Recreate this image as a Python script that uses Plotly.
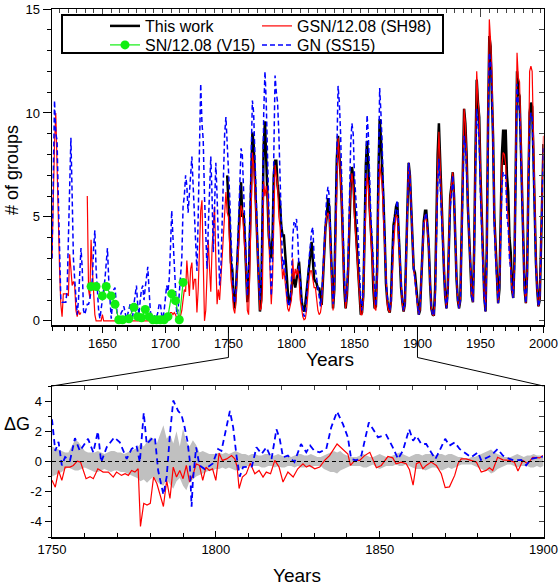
import plotly.graph_objects as go

# ---- top panel: number of sunspot groups, one value per year ----
gn_years = list(range(1610, 2001))
gn_ss15 = [
    3.0, 7.0, 10.6, 9.0, 8.7, 6.0, 2.5, 1.0, 0.9, 0.9,
    0.9, 0.9, 1.5, 4.0, 7.5, 8.8, 6.0, 3.0, 2.0, 1.0,
    0.3, 1.0, 2.0, 3.5, 2.5, 0.5, 0.3, 0.5, 0.8, 0.8,
    1.0, 1.5, 2.0, 3.5, 4.35, 2.5, 1.2, 0.5, 0.1, 0.5,
    1.0, 1.5, 2.0, 3.0, 3.5, 2.0, 0.8, 0.1, 0.8, 1.5,
    1.6, 0.6, 0.1, 0.1, 0.2, 0.4, 0.5, 0.7, 0.3, 0.1,
    0.3, 0.5, 0.8, 0.5, 0.2, 0.8, 1.3, 1.7, 0.8, 0.3,
    1.0, 1.5, 1.7, 1.0, 1.6, 2.2, 2.6, 1.5, 0.5, 0.1,
    0.1, 0.2, 0.3, 0.2, 0.4, 0.8, 0.85, 0.3, 0.1, 0.5,
    1.2, 1.7, 1.4, 2.0, 3.5, 5.3, 4.0, 2.5, 1.0, 0.3,
    0.5, 1.5, 2.0, 3.0, 5.5, 6.0, 7.0, 6.5, 5.2, 6.0,
    7.0, 7.9, 6.5, 5.0, 3.5, 2.4, 5.0, 9.0, 11.4, 9.5,
    8.7, 6.0, 4.0, 2.5, 4.5, 6.5, 7.9, 6.0, 3.3, 5.5,
    7.6, 6.0, 3.5, 1.7, 2.5, 5.0, 7.5, 9.0, 9.8, 8.4,
    7.7, 6.0, 4.0, 2.5, 1.2, 0.85, 1.5, 3.0, 4.5, 6.5,
    8.3, 8.0, 6.0, 4.5, 3.0, 1.2, 2.5, 5.0, 8.0, 10.6,
    10.0, 8.0, 6.0, 3.5, 2.0, 1.0, 2.0, 5.0, 10.0, 12.0,
    10.5, 8.0, 5.0, 3.0, 1.2, 3.0, 8.0, 11.8, 11.0, 10.5,
    9.0, 7.0, 5.0, 2.5, 3.0, 2.5, 1.5, 0.9, 0.7, 1.0,
    2.0, 4.0, 4.75, 4.5, 4.9, 4.0, 2.5, 2.0, 1.0, 0.5,
    0.2, 0.3, 1.0, 2.0, 3.0, 3.8, 4.3, 4.5, 3.0, 2.5,
    2.0, 1.5, 1.0, 0.7, 1.2, 2.5, 4.0, 5.0, 6.0, 6.45,
    6.0, 4.0, 2.0, 0.8, 1.5, 4.5, 9.0, 11.3, 10.5, 9.0,
    6.5, 4.0, 2.0, 0.9, 1.5, 3.0, 6.0, 8.5, 9.5, 9.0,
    7.0, 6.0, 5.5, 4.0, 2.5, 1.0, 0.5, 1.5, 4.5, 8.0,
    9.9, 9.0, 6.5, 5.0, 4.0, 2.5, 1.5, 0.7, 2.5, 7.0,
    11.2, 10.0, 8.5, 6.0, 4.0, 2.0, 1.2, 0.8, 0.5, 1.0,
    3.0, 4.5, 5.0, 5.5, 5.8, 4.5, 3.0, 1.8, 1.0, 0.5,
    0.8, 3.0, 6.0, 7.6, 7.0, 5.5, 4.0, 2.5, 2.0, 1.2,
    0.8, 0.3, 0.6, 2.0, 3.5, 4.8, 5.0, 5.2, 4.5, 3.8,
    1.8, 0.6, 0.3, 0.25, 1.0, 4.0, 6.5, 7.8, 6.5, 5.0,
    3.5, 2.5, 1.2, 0.6, 1.2, 3.5, 5.5, 6.0, 7.0, 6.0,
    3.5, 2.0, 1.0, 0.6, 1.0, 4.0, 7.5, 8.9, 8.5, 7.0,
    5.0, 3.5, 2.0, 1.2, 0.9, 3.0, 7.0, 10.2, 9.5, 8.5,
    6.0, 4.5, 2.5, 1.0, 0.45, 3.0, 9.0, 12.9, 12.5, 11.0,
    8.5, 4.5, 3.0, 2.0, 0.85, 1.5, 4.0, 6.5, 7.15, 7.0,
    7.0, 5.0, 4.5, 3.0, 2.5, 1.5, 1.1, 2.5, 7.0, 11.4,
    10.5, 10.0, 8.0, 5.5, 3.5, 1.5, 0.85, 2.0, 6.0, 9.5,
    10.0, 9.8, 7.5, 4.5, 2.5, 1.5, 0.7, 1.0, 3.0, 6.0,
    8.3,
]

gsn_sh98 = [
    3.0, 6.0, 8.5, 10.0, 8.0, 5.0, 2.5, 0.8, 0.2, 1.3,
    1.3, 1.3, 1.3, 1.2, 3.2, 2.5, 1.7, 1.9, 1.7, 0.5,
    0.2, 0.5, 0.3, 0.4, None, None, None, None, 6.0, 1.5,
    1.1, 3.9, 2.5, 1.0, 0.3, 0.0, 0.0, 0.0, 0.0, 0.0,
    0.3, 0.0, 0.0, 0.0, 0.0, 0.0, 0.0, 0.0, 0.0, 0.0,
    0.0, 0.0, 0.0, 0.0, 0.0, 0.0, 0.0, 0.0, 0.0, 0.0,
    0.0, 0.0, 0.0, 0.0, 0.0, 0.0, 0.0, 0.0, 0.0, 0.0,
    0.0, 0.0, 0.0, 0.0, 0.0, 0.0, 0.0, 0.0, 0.0, 0.0,
    0.0, 0.0, 0.0, 0.0, 0.0, 0.0, 0.0, 0.0, 0.0, 0.0,
    0.0, 0.1, 0.2, 0.3, 0.4, 0.4, 0.3, 0.4, 0.3, 0.1,
    0.0, 0.0, 0.2, 0.5, 1.0, 1.5, 1.4, 2.9, 2.0, 1.2,
    2.5, 2.8, 1.5, 2.0, 2.0, 0.4, 1.5, 3.0, 5.3, 5.8,
    3.0, 0.0, 0.5, 2.0, 3.9, 2.5, 1.4, 3.5, 4.7, 5.5,
    3.0, 0.8, 1.5, 1.0, 2.0, 3.0, 4.5, 5.2, 6.2, 5.2,
    5.0, 3.6, 2.0, 1.5, 0.6, 0.36, 1.0, 2.5, 3.5, 4.5,
    5.55, 5.3, 4.5, 3.5, 2.5, 0.5, 0.3, 2.5, 6.0, 8.1,
    7.5, 6.5, 5.0, 3.5, 1.5, 0.5, 0.6, 1.5, 6.7, 6.0,
    6.5, 6.0, 4.0, 2.0, 0.8, 2.0, 5.0, 7.5, 7.0, 6.5,
    5.0, 4.5, 3.0, 2.0, 2.5, 1.8, 1.0, 0.6, 0.45, 0.8,
    1.0, 3.0, 2.0, 2.5, 2.2, 2.5, 2.0, 1.0, 0.5, 0.2,
    0.05, 0.1, 0.5, 1.5, 2.0, 2.4, 2.4, 2.0, 1.6, 1.6,
    1.0, 0.5, 0.3, 0.4, 0.8, 2.0, 3.5, 4.5, 5.0, 5.2,
    5.0, 3.5, 1.5, 0.5, 1.5, 4.0, 7.5, 8.8, 8.0, 7.0,
    5.5, 3.0, 1.5, 0.6, 1.2, 2.5, 5.0, 6.5, 7.1, 6.5,
    5.0, 4.0, 3.5, 2.5, 1.5, 0.3, 0.3, 1.0, 3.5, 6.0,
    7.05, 6.5, 5.0, 4.0, 3.0, 1.5, 0.6, 0.5, 2.0, 5.5,
    7.55, 7.0, 6.5, 5.0, 3.5, 1.5, 0.8, 0.5, 0.4, 0.8,
    2.5, 3.5, 4.5, 5.1, 5.0, 4.0, 2.8, 1.5, 0.8, 0.45,
    0.8, 2.8, 6.0, 7.6, 7.0, 5.5, 4.0, 2.5, 2.0, 1.2,
    0.8, 0.3, 0.5, 2.0, 3.5, 4.5, 5.1, 5.0, 4.2, 3.5,
    1.8, 0.6, 0.3, 0.25, 1.2, 5.0, 7.5, 9.1, 7.5, 6.0,
    4.0, 2.5, 1.2, 0.6, 1.5, 4.0, 6.0, 6.5, 7.15, 6.0,
    3.5, 2.0, 1.0, 0.6, 1.0, 4.5, 8.5, 10.2, 9.5, 8.0,
    5.5, 4.0, 2.5, 1.2, 0.9, 3.5, 8.0, 12.0, 10.6, 10.0,
    7.0, 5.0, 3.0, 1.2, 0.45, 3.5, 10.0, 14.5, 13.5, 12.0,
    9.0, 5.0, 3.5, 2.0, 0.85, 1.5, 5.0, 7.5, 8.1, 8.0,
    7.5, 5.5, 5.0, 3.2, 2.5, 1.5, 1.1, 3.0, 8.0, 12.9,
    11.7, 11.5, 9.0, 6.0, 4.0, 1.5, 0.85, 2.5, 7.0, 12.0,
    12.25, 12.0, 9.0, 5.0, 3.0, 1.5, 0.7, 1.0, 3.5, 7.0,
    8.9,
]

this_years = list(range(1749, 2001))
this_work = [
    7.0,
    6.0, 4.5, 2.8, 2.5, 1.2, 0.6, 1.5, 3.0, 4.5, 5.8,
    6.67, 5.0, 5.2, 4.0, 2.5, 0.9, 1.5, 4.0, 7.5, 9.06,
    8.5, 7.0, 5.5, 4.0, 2.0, 0.45, 1.0, 4.0, 8.5, 9.6,
    8.0, 6.0, 4.1, 3.5, 3.0, 4.0, 7.0, 7.7, 7.7, 6.5,
    6.0, 5.55, 4.5, 4.1, 4.1, 3.0, 2.4, 1.5, 0.77, 1.0,
    1.4, 2.3, 2.0, 1.6, 2.0, 2.5, 2.85, 2.0, 1.0, 0.6,
    0.45, 0.8, 1.5, 2.0, 2.5, 3.2, 3.8, 2.8, 2.0, 1.9,
    1.8, 1.5, 1.6, 1.2, 0.77, 2.0, 3.5, 4.5, 5.0, 5.9,
    5.5, 3.5, 1.5, 0.6, 1.5, 4.5, 7.8, 8.9, 8.0, 7.0,
    5.5, 3.0, 1.5, 0.6, 1.2, 2.5, 5.0, 6.5, 7.4, 7.0,
    5.5, 4.5, 3.5, 2.5, 1.5, 0.3, 0.4, 1.2, 4.0, 7.5,
    8.66, 7.5, 5.5, 4.5, 3.3, 1.5, 0.6, 0.7, 2.5, 7.0,
    9.7, 8.8, 7.5, 5.8, 4.0, 1.8, 1.0, 0.53, 0.4, 1.0,
    3.0, 4.6, 5.0, 5.5, 5.7, 4.2, 2.8, 1.6, 0.9, 0.45,
    0.8, 3.0, 6.5, 7.6, 7.0, 5.5, 4.0, 2.5, 2.3, 1.5,
    0.9, 0.3, 0.5, 2.0, 3.5, 4.8, 5.3, 5.3, 4.5, 3.5,
    1.8, 0.6, 0.3, 0.25, 1.5, 5.5, 8.0, 9.5, 7.5, 6.0,
    4.0, 2.5, 1.2, 0.6, 1.5, 4.0, 6.0, 6.5, 7.15, 6.0,
    3.5, 2.0, 1.0, 0.6, 1.0, 4.5, 8.5, 10.2, 9.5, 8.0,
    5.5, 4.0, 2.5, 1.2, 0.9, 3.5, 8.0, 11.6, 10.5, 9.8,
    7.0, 5.0, 3.0, 1.2, 0.45, 3.5, 9.5, 13.7, 13.2, 11.5,
    8.8, 5.0, 3.5, 2.0, 0.85, 1.5, 5.5, 8.0, 9.2, 7.5,
    9.2, 7.0, 6.2, 4.0, 3.3, 1.5, 1.1, 3.0, 7.5, 12.0,
    11.0, 10.8, 8.5, 5.8, 3.8, 1.5, 0.85, 2.3, 6.5, 10.0,
    10.5, 10.3, 8.0, 4.8, 2.8, 1.5, 0.7, 1.0, 3.2, 6.5,
    8.5,
]

v15_years = [1641, 1645, 1650, 1653, 1657, 1660, 1663, 1666, 1671, 1675, 1678, 1681,
             1684, 1687, 1690, 1693, 1696, 1699, 1702, 1705, 1708, 1711, 1714]
v15_sn = [1.65, 1.65, 1.2, 1.65, 1.2, 0.8, 0.05, 0.05, 0.1, 0.65, 0.2, 0.15,
          0.55, 0.2, 0.05, 0.05, 0.05, 0.05, 0.2, 1.3, 0.97, 0.05, 1.85]

# ---- bottom panel: differences against this work ----
d_gsn_years = [1750, 1751, 1752, 1753, 1754, 1755.5, 1756.5, 1757.7, 1758.7, 1759.5, 1760.4, 1761.6,
               1762.6, 1764, 1765.6, 1767.2, 1768.7, 1769.7, 1771.2, 1772.3, 1773.3, 1774.3, 1775.3,
               1776.3, 1777, 1778, 1779, 1780, 1781, 1782, 1783, 1784, 1785, 1786, 1787, 1788, 1789,
               1790, 1791, 1792, 1793, 1794, 1795, 1796, 1797, 1798, 1799, 1800, 1801, 1802, 1803.3,
               1804.8, 1805.8, 1806.5, 1807.1, 1808.1, 1809.3, 1810.5, 1811.9, 1813.2, 1814.4, 1815.4,
               1816.7, 1818, 1819.3, 1820.5, 1822, 1823.6, 1825, 1826.6, 1827.6, 1828.6, 1830.2,
               1831.7, 1833.2, 1834.7, 1837, 1838.8, 1840.3, 1841.1, 1842.4, 1843.9, 1845.4, 1847,
               1848, 1849, 1850.5, 1852.5, 1854, 1855, 1856.6, 1858.1, 1859.1, 1860.2, 1861.2, 1862.2,
               1863.2, 1864.2, 1865.7, 1867.3, 1868.8, 1870, 1871.3, 1872.9, 1873.9, 1874.9, 1876.4,
               1877.9, 1879.5, 1881, 1882.5, 1883.5, 1884.5, 1886, 1887.6, 1889.6, 1891.1, 1892.2,
               1893.7, 1895.2, 1896.7, 1898.8, 1899.8]
d_gsn = [-1.25, -1.7, -0.6, -1.25, -0.37, -0.37, -0.26, 0.02, -0.04, -0.5, -1.14, -1.0,
         -1.14, -0.48, -0.7, -0.7, -1.03, -0.7, -0.92, -0.81, -0.92, -0.59, -0.7,
         -0.48, -4.3, -2.77, -2.88, -2.77, -1.03, -1.46, -2.2, -2.98, -1.25, -2.45, -0.37, -1.03, -0.59,
         -1.14, -0.26, -1.36, -0.92, -0.15, -0.26, -1.25, -0.37, -0.59, -0.48, -1.25, 0.55, 0.07, 0.17,
         0.39, 0.17, -0.37, -1.79, -1.03, -0.81, -0.11, -0.81, -0.59, -1.03, -0.7,
         -0.81, 0.07, -0.37, -1.36, -0.7, -1.03, -0.48, -0.15, -0.37, -0.26, -0.48,
         -0.37, 0.07, 0.39, 1.16, 0.83, 0.5, -0.26, 0.07, 0.07, 0.39, 0.61,
         0.07, -0.41, -0.26, 0.33, 0.24, -0.15, -0.04, -0.15, -0.55, -1.57, -0.15, -0.04,
         -0.48, -0.26, -0.04, -0.26, -0.81, -1.73, -1.68, -0.92, -0.15, 0.17, 0.17,
         0.07, -0.04, -0.7, -0.59, -0.41, -0.59, 0.28, 0.11, 0.07, -0.04, -0.63,
         0.07, -0.15, 0.28, 0.24, 0.39]

d_gn_years = [1750, 1751, 1752, 1753, 1754, 1755.5, 1757, 1758.5, 1761, 1762.6, 1764, 1765, 1766.7,
              1769, 1770.7, 1772.8, 1774.3, 1775.8, 1776.8, 1778, 1778.9, 1780.4, 1781.4, 1782.4,
              1784, 1785, 1786, 1787, 1788.5, 1789.5, 1790.5, 1791.3, 1792, 1792.6, 1793, 1794,
              1795, 1796.6, 1799, 1800.7, 1801.7, 1803, 1804.3, 1805.3, 1806.3, 1807.3, 1808.3,
              1811, 1812.4, 1814, 1815.4, 1817, 1818.5, 1819.5, 1820.5, 1822, 1824, 1826, 1827.6,
              1828.8, 1830, 1831.7, 1833.7, 1835.2, 1837, 1838.8, 1840.3, 1841.3, 1842.9, 1844.4,
              1846.7, 1848, 1849.5, 1851, 1852, 1854, 1855.6, 1857.1, 1859, 1860.2, 1861.2, 1862.7,
              1864.2, 1865.7, 1867, 1868.3, 1870, 1871.3, 1872.9, 1874.4, 1875.9, 1877.9, 1880,
              1881, 1883, 1884, 1886, 1887.6, 1889.6, 1891, 1893.2, 1894.7, 1896.2, 1898.3, 1899.8]
d_gn = [2.8, 0.7, 1.3, -0.26, 0.3, 0.07, 1.55, 0.7, 1.5, 0.6, 2.0, -0.05, 0.95,
        1.6, 1.27, 0.17, 0.83, 1.05, -0.05, 3.23, 1.15, 1.5, 1.6, -0.6,
        -2.2, -1.0, 1.8, 4.04, 3.35, 3.1, 2.25, 1.38, 0.17, -3.0, -1.25, 0.94,
        -0.26, -0.5, -0.15, 0.83, 0.7, 2.0, 3.35, 2.25, 0.39, -1.0, -0.37,
        -0.33, 0.94, 0.5, 0.94, 0.17, 2.14, 1.5, 0.28, 0.39, -0.04, 1.16, 0.61,
        1.05, 0.72, 0.61, 0.83, 2.25, 3.3, 2.47, 1.6, 0.17, 0.07, 0.39,
        2.58, 2.14, 1.6, 1.7, 1.77, 0.94, 0.17, 0.72, 2.14, 1.38, 1.7, 1.16,
        1.16, 0.61, 0.17, 0.72, 1.5, 1.05, 1.27, 0.83, 0.61, 0.28, 0.61,
        0.07, 0.28, 0.39, 0.83, 0.39, 0.17, 0.07, 0.11, -0.26, 0.17, 0.28, 0.33]

band_years = list(range(1750, 1901))
band_hi = [
    1.0, 0.9, 0.8, 0.7, 0.6, 0.6, 1.0, 1.4, 1.3, 1.0,
    0.7, 0.6, 0.6, 0.6, 0.7, 0.6, 0.5, 0.6, 0.7, 0.7,
    0.6, 0.6, 0.5, 0.6, 0.7, 0.8, 0.9, 1.2, 1.0, 1.3,
    1.6, 1.5, 1.2, 1.8, 2.4, 1.5, 1.8, 1.2, 2.0, 1.0,
    2.2, 1.3, 1.0, 1.4, 1.1, 0.6, 0.7, 0.6, 0.5, 0.5,
    0.5, 0.6, 0.5, 0.6, 0.5, 0.6, 0.7, 0.6, 0.5, 0.5,
    0.4, 0.5, 0.5, 0.4, 0.4, 0.5, 0.5, 0.4, 0.4, 0.5,
    0.4, 0.3, 0.4, 0.3, 0.4, 0.5, 0.5, 0.4, 0.4, 0.5,
    0.4, 0.3, 0.3, 0.4, 0.5, 0.6, 0.7, 0.6, 0.7, 0.5,
    0.4, 0.3, 0.3, 0.3, 0.4, 0.5, 0.4, 0.3, 0.3, 0.4,
    0.5, 0.4, 0.3, 0.3, 0.4, 0.5, 0.6, 0.5, 0.4, 0.3,
    0.4, 0.5, 0.5, 0.4, 0.5, 0.5, 0.5, 0.4, 0.5, 0.5,
    0.4, 0.5, 0.5, 0.4, 0.3, 0.3, 0.2, 0.2, 0.3, 0.3,
    0.4, 0.5, 0.6, 0.7, 0.8, 0.6, 0.5, 0.4, 0.3, 0.3,
    0.3, 0.4, 0.5, 0.4, 0.3, 0.4, 0.4, 0.5, 0.4, 0.4,
    0.3,
]
band_lo = [
    -1.0, -0.9, -0.8, -0.7, -0.5, -0.4, -0.5, -0.6, -0.6, -0.5,
    -0.4, -0.5, -0.6, -0.7, -0.7, -0.6, -0.5, -0.6, -0.7, -0.6,
    -0.6, -0.7, -0.7, -0.8, -0.9, -1.0, -1.1, -1.3, -1.2, -1.4,
    -1.2, -1.0, -1.3, -1.5, -1.6, -1.2, -1.5, -1.8, -1.3, -1.1,
    -1.6, -1.9, -1.3, -1.2, -1.0, -0.9, -0.8, -0.7, -0.6, -0.6,
    -0.5, -0.5, -0.4, -0.5, -0.4, -0.5, -0.6, -0.5, -0.4, -0.3,
    -0.3, -0.3, -0.3, -0.3, -0.4, -0.4, -0.3, -0.3, -0.4, -0.3,
    -0.4, -0.4, -0.3, -0.3, -0.4, -0.3, -0.4, -0.4, -0.3, -0.4,
    -0.3, -0.3, -0.3, -0.5, -0.6, -0.7, -0.7, -0.8, -0.6, -0.5,
    -0.4, -0.3, -0.3, -0.3, -0.3, -0.4, -0.4, -0.3, -0.2, -0.4,
    -0.5, -0.4, -0.3, -0.3, -0.3, -0.2, -0.3, -0.3, -0.2, -0.3,
    -0.4, -0.5, -0.5, -0.5, -0.6, -0.5, -0.4, -0.4, -0.5, -0.6,
    -0.5, -0.4, -0.5, -0.4, -0.3, -0.2, -0.2, -0.2, -0.2, -0.3,
    -0.4, -0.5, -0.6, -0.6, -0.8, -0.7, -0.5, -0.4, -0.3, -0.2,
    -0.2, -0.3, -0.4, -0.3, -0.3, -0.3, -0.4, -0.4, -0.3, -0.4,
    -0.3,
]

dg_ticks = [-4, -2, 0, 2, 4]
dg_ticktext = ["-4", "-2", "0", "2", "4"]

W, H = 560, 586
FONT = "Arial, Liberation Sans, sans-serif"
V15_COLOR = "#11ee11"


def px_x(p):
    return p / W


def px_y(p):
    return 1 - p / H


x_dom = [px_x(52), px_x(543.5)]
top_dom = [px_y(325), px_y(9)]
bot_dom = [px_y(537), px_y(386)]
top_range = [1610, 2000]
bot_range = [1750, 1900]

fig = go.Figure()

# top panel (one legend box per entry so the 2x2 grid can be placed exactly)
fig.add_trace(go.Scatter(x=this_years, y=this_work, mode="lines", name="This work",
                         line=dict(color="black", width=2.5), legend="legend"))
fig.add_trace(go.Scatter(x=gn_years, y=gsn_sh98, mode="lines", name="GSN/12.08 (SH98)",
                         line=dict(color="#ff0000", width=1.2), connectgaps=False, legend="legend2"))
fig.add_trace(go.Scatter(x=gn_years, y=gn_ss15, mode="lines", name="GN (SS15)",
                         line=dict(color="#0000ff", width=1.5, dash="5px,3px"), legend="legend4"))
fig.add_trace(go.Scatter(x=v15_years, y=v15_sn, mode="lines+markers", name="SN/12.08 (V15)",
                         line=dict(color=V15_COLOR, width=1.2),
                         marker=dict(color=V15_COLOR, size=9), legend="legend3"))
fig.add_trace(go.Scatter(x=[None], y=[None], xaxis="x2", yaxis="y2", showlegend=False))

# bottom panel: uncertainty band as one closed polygon
fig.add_trace(go.Scatter(x=band_years + band_years[::-1], y=band_hi + band_lo[::-1],
                         mode="lines", fill="toself", fillcolor="#c0c0c0",
                         line=dict(width=0, color="#c0c0c0"),
                         xaxis="x3", yaxis="y3", showlegend=False))
fig.add_trace(go.Scatter(x=d_gsn_years, y=d_gsn, mode="lines", line=dict(color="#ff0000", width=1.2),
                         xaxis="x3", yaxis="y3", showlegend=False))
fig.add_trace(go.Scatter(x=d_gn_years, y=d_gn, mode="lines",
                         line=dict(color="#0000ff", width=1.8, dash="6px,4px"),
                         xaxis="x3", yaxis="y3", showlegend=False))
fig.add_trace(go.Scatter(x=[None], y=[None], xaxis="x4", yaxis="y4", showlegend=False))

# no hover labels anywhere: the page is only photographed
fig.update_traces(hoverinfo="skip")

axis_common = dict(showgrid=False, zeroline=False, color="black", automargin=False,
                   tickfont=dict(family=FONT, size=13, color="black"))
frame = dict(showline=True, linecolor="black", linewidth=1.5, mirror=True)
overlay = dict(showticklabels=False, showgrid=False, zeroline=False, showline=False,
               automargin=False)


def legend_box(x_px, y_px):
    return dict(x=px_x(x_px), y=px_y(y_px), xanchor="left", yanchor="middle",
                bgcolor="rgba(0,0,0,0)", borderwidth=0, traceorder="normal",
                font=dict(family=FONT, size=16, color="black"))


fig.update_layout(
    width=W, height=H,
    margin=dict(l=0, r=0, t=0, b=0, pad=0, autoexpand=False),
    paper_bgcolor="white", plot_bgcolor="white",
    font=dict(family=FONT, color="black"),
    hovermode=False,
    xaxis=dict(domain=x_dom, range=top_range, anchor="y", dtick=50, tick0=1650,
               ticks="outside", ticklen=6, tickwidth=1,
               minor=dict(dtick=10, tick0=1610, ticks="outside", ticklen=4),
               **frame, **axis_common),
    yaxis=dict(domain=top_dom, range=[-0.2, 15], anchor="x", dtick=5,
               ticks="outside", ticklen=8,
               minor=dict(dtick=1, ticks="outside", ticklen=4),
               **frame, **axis_common),
    xaxis2=dict(overlaying="x", side="top", anchor="y", range=top_range,
                ticks="inside", ticklen=8, dtick=300, tick0=1650,
                minor=dict(dtick=300 / 44, tick0=1650, ticks="inside", ticklen=4),
                **overlay),
    yaxis2=dict(overlaying="y", side="right", anchor="x", range=[-0.2, 15],
                ticks="inside", ticklen=5, dtick=1, **overlay),
    xaxis3=dict(domain=x_dom, range=bot_range, anchor="y3", dtick=50, tick0=1750,
                ticks="inside", ticklen=6,
                minor=dict(dtick=10, tick0=1750, ticks="inside", ticklen=4),
                **frame, **axis_common),
    yaxis3=dict(domain=bot_dom, range=[-5, 5], anchor="x3",
                tickmode="array", tickvals=dg_ticks, ticktext=dg_ticktext,
                ticks="outside", ticklen=6,
                minor=dict(tickmode="linear", dtick=1, tick0=0, ticks="outside", ticklen=3),
                **frame, **axis_common),
    xaxis4=dict(overlaying="x3", side="top", anchor="y3", range=bot_range,
                ticks="inside", ticklen=4, dtick=10, tick0=1750, **overlay),
    yaxis4=dict(overlaying="y3", side="right", anchor="x3", range=[-5, 5],
                ticks="inside", ticklen=5, dtick=1, **overlay),
    legend=legend_box(105, 26),
    legend2=legend_box(257, 26),
    legend3=legend_box(105, 45),
    legend4=legend_box(257, 45),
)


def top_x(year):
    return x_dom[0] + (year - top_range[0]) / (top_range[1] - top_range[0]) * (x_dom[1] - x_dom[0])


knee = px_y(357.5)
shapes = [
    # legend frame
    dict(type="rect", xref="paper", yref="paper", x0=px_x(62), x1=px_x(443),
         y0=px_y(53), y1=px_y(15), line=dict(color="black", width=2),
         fillcolor="white", layer="above"),
    # zoom connectors
    dict(type="path", xref="paper", yref="paper",
         path=f"M {top_x(1750)},{top_dom[0]} L {top_x(1750)},{knee} L {x_dom[0]},{bot_dom[1]}",
         line=dict(color="black", width=1)),
    dict(type="path", xref="paper", yref="paper",
         path=f"M {top_x(1900)},{top_dom[0]} L {top_x(1900)},{knee} L {x_dom[1]},{bot_dom[1]}",
         line=dict(color="black", width=1)),
    # zero line in lower panel
    dict(type="line", xref="x3 domain", yref="y3", x0=0, x1=1, y0=0, y1=0,
         line=dict(color="black", width=1.2, dash="4px,3px"), layer="above"),
]
fig.update_layout(shapes=shapes)

labels = [
    dict(text="# of groups", x=px_x(12), y=px_y(170), textangle=-90, size=18),
    dict(text="Years", x=px_x(330), y=px_y(359), textangle=0, size=19),
    dict(text="ΔG", x=px_x(17), y=px_y(424), textangle=0, size=18),
    dict(text="Years", x=px_x(297), y=px_y(575), textangle=0, size=19),
]
for lab in labels:
    fig.add_annotation(text=lab["text"], x=lab["x"], y=lab["y"], xref="paper", yref="paper",
                       showarrow=False, textangle=lab["textangle"], xanchor="center",
                       yanchor="middle", font=dict(family=FONT, size=lab["size"], color="black"))

# the page body keeps its default 8px margin otherwise, which shifts the figure
fig.write_html("out.html", config={"staticPlot": True},
               post_script="document.body.style.margin='0';document.body.style.overflow='hidden';")
